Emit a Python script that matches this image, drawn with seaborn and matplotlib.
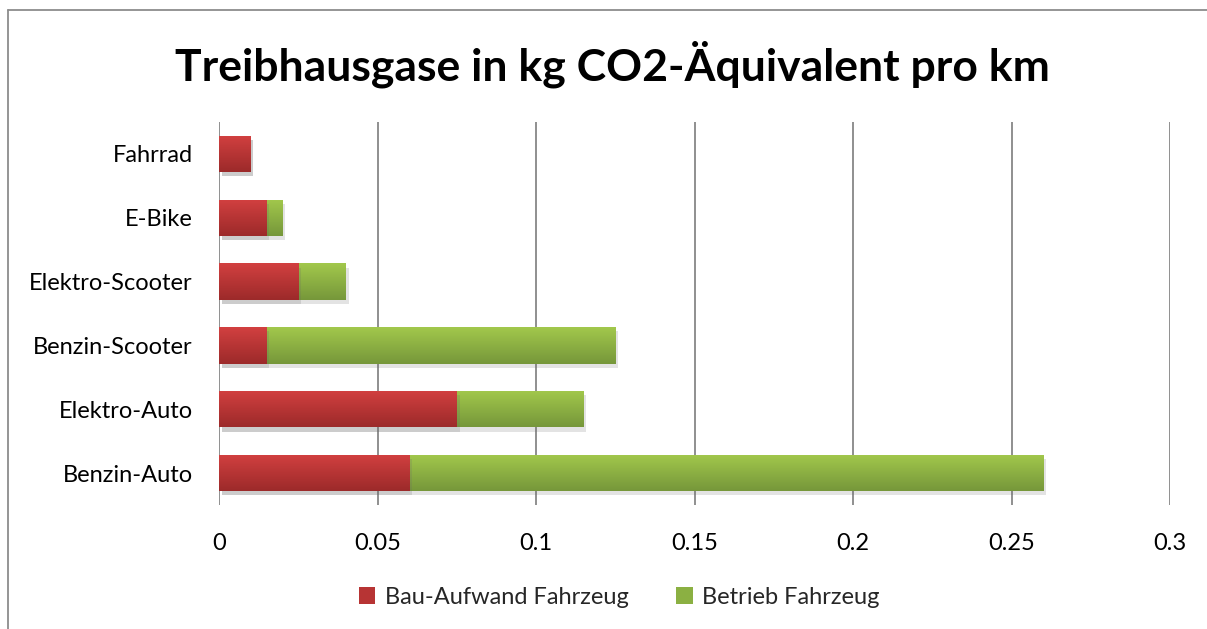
"""Stacked horizontal bars: greenhouse gases per km by vehicle type."""

import numpy as np
import pandas as pd
import matplotlib
matplotlib.use("Agg")
import matplotlib.pyplot as plt
import matplotlib.patheffects as pe
from matplotlib.colors import to_rgb
from matplotlib.lines import Line2D
from matplotlib.patches import Patch
import seaborn as sns

VEHICLES = ["Fahrrad", "E-Bike", "Elektro-Scooter", "Benzin-Scooter",
            "Elektro-Auto", "Benzin-Auto"]
BAU = [0.01, 0.015, 0.025, 0.015, 0.075, 0.06]
BETRIEB = [0.0, 0.005, 0.015, 0.11, 0.04, 0.2]
SERIES = ["Bau-Aufwand Fahrzeug", "Betrieb Fahrzeug"]
TITLE = "Treibhausgase in kg CO2-Äquivalent pro km"
XTICKS = [0, 0.05, 0.1, 0.15, 0.2, 0.25, 0.3]

RED = ("#d24040", "#9c2a2a")
GREEN = ("#a2c84c", "#76973a")

sns.set_theme(style="white")
plt.rcParams["font.family"] = ["Lato", "DejaVu Sans"]

df = pd.DataFrame({"vehicle": VEHICLES, "bau": BAU, "betrieb": BETRIEB})
df["total"] = df["bau"] + df["betrieb"]

fig = plt.figure(figsize=(12.07, 6.29), dpi=100)
ax = fig.add_axes([219 / 1207, 1 - 505 / 629, (1170 - 219) / 1207, (505 - 122) / 629])

sns.barplot(data=df, y="vehicle", x="total", color=GREEN[1], width=0.57,
            ax=ax, orient="h", zorder=3, linewidth=0)
n_green = len(ax.patches)
sns.barplot(data=df, y="vehicle", x="bau", color=RED[1], width=0.57,
            ax=ax, orient="h", zorder=4, linewidth=0)


def gradient(top, bottom, n=64):
    a, b = np.array(to_rgb(top)), np.array(to_rgb(bottom))
    t = np.linspace(0, 1, n)[:, None]
    return (a + (b - a) * t)[:, None, :]


for i, p in enumerate(ax.patches):
    if p.get_width() <= 0:
        continue
    cols = GREEN if i < n_green else RED
    z = 3 if i < n_green else 4
    p.set_edgecolor("none")
    p.set_path_effects([pe.SimplePatchShadow(offset=(2, -3), alpha=0.18,
                                             shadow_rgbFace="#666666"),
                        pe.Normal()])
    x0, y0, w, h = p.get_x(), p.get_y(), p.get_width(), p.get_height()
    im = ax.imshow(gradient(*cols), extent=(x0, x0 + w, y0 + h, y0),
                   aspect="auto", interpolation="bilinear", zorder=z + 0.5)
    im.set_clip_path(p)

ax.set_xlim(0, 0.3)
ax.set_ylim(5.5, -0.5)
ax.set_xticks(XTICKS)
ax.set_xticklabels([f"{v:g}" for v in XTICKS])
ax.xaxis.grid(True, color="#878787", linewidth=1.3, zorder=0)
ax.set_axisbelow(True)
for s in ax.spines.values():
    s.set_visible(False)
ax.tick_params(axis="x", length=0, pad=20, labelsize=17, labelcolor="black")
ax.tick_params(axis="y", length=0, pad=19, labelsize=17, labelcolor="black")
ax.set_xlabel("")
ax.set_ylabel("")

fig.text(0.507, 1 - 64 / 629, TITLE, ha="center", va="center",
         fontsize=32, fontweight="bold", color="black")

handles = [Patch(facecolor="#b73434", edgecolor="none"),
           Patch(facecolor="#8bb042", edgecolor="none")]
fig.legend(handles, SERIES, loc="center", bbox_to_anchor=(0.513, 1 - 597 / 629),
           ncol=2, frameon=False, fontsize=17, handlelength=0.7,
           handleheight=0.7, handletextpad=0.4, columnspacing=2.0)

# chart frame (left and top edges visible in the crop)
fig.add_artist(Line2D([8 / 1207, 8 / 1207], [0, 1 - 10 / 629],
                      transform=fig.transFigure, color="#8c8c8c", lw=1.3))
fig.add_artist(Line2D([8 / 1207, 1], [1 - 10 / 629, 1 - 10 / 629],
                      transform=fig.transFigure, color="#8c8c8c", lw=1.3))

fig.savefig("out.png", dpi=100)
